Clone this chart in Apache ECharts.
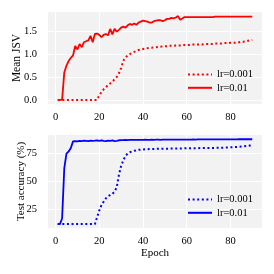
<!DOCTYPE html>
<html>
<head>
<meta charset="utf-8">
<script src="https://cdn.jsdelivr.net/npm/echarts@6/dist/echarts.min.js"></script>
<style>html,body{margin:0;padding:0;background:#fff;}#c{width:274px;height:274px;}</style>
</head>
<body>
<div id="c"></div>
<script>
const epochs = [1,2,3,4,5,6,7,8,9,10,11,12,13,14,15,16,17,18,19,20,21,22,23,24,25,26,27,28,29,30,
31,32,33,34,35,36,37,38,39,40,41,42,43,44,45,46,47,48,49,50,51,52,53,54,55,56,57,58,59,60,
61,62,63,64,65,66,67,68,69,70,71,72,73,74,75,76,77,78,79,80,81,82,83,84,85,86,87,88,89,90];

const jsvLr001 = [0,0,0,0,0,0,0,0,0,0,0,0,0,0,0,0,0,0,0,0.1,
0.17,0.23,0.28,0.32,0.36,0.4,0.45,0.5,0.58,0.7,
0.85,0.93,0.97,1.0,1.03,1.05,1.07,1.09,1.1,1.11,
1.12,1.13,1.14,1.14,1.15,1.15,1.16,1.16,1.17,1.17,
1.17,1.18,1.18,1.18,1.19,1.19,1.19,1.2,1.2,1.2,
1.2,1.2,1.21,1.21,1.21,1.21,1.21,1.22,1.22,1.22,
1.22,1.22,1.23,1.23,1.23,1.23,1.24,1.24,1.24,1.25,
1.25,1.25,1.26,1.26,1.27,1.27,1.28,1.29,1.3,1.31];

const jsvLr01 = [0,0,0,0.6,0.75,0.85,0.92,0.97,1.18,1.1,
1.22,1.15,1.26,1.28,1.3,1.4,1.26,1.44,1.45,1.42,
1.37,1.42,1.44,1.41,1.55,1.43,1.55,1.49,1.53,1.58,
1.6,1.58,1.63,1.66,1.64,1.67,1.64,1.69,1.71,1.73,
1.72,1.71,1.69,1.69,1.72,1.73,1.74,1.74,1.72,1.74,
1.77,1.77,1.79,1.78,1.8,1.83,1.75,1.78,1.81,1.81,
1.81,1.81,1.81,1.81,1.81,1.81,1.81,1.81,1.81,1.81,
1.81,1.81,1.82,1.82,1.82,1.82,1.82,1.82,1.82,1.82,
1.82,1.82,1.82,1.82,1.82,1.82,1.82,1.82,1.82,1.82];

const accLr001 = [12,12,12,12,12,12,12,12,12,12,12,12,12,12,12,12,12,12,18,24,
29,32,35,37,38,39,41,45,56,64,
69,73,75,76.3,77,77.6,78,78.4,78.6,78.8,
79,79,79.1,79.2,79.2,79.3,79.3,79.4,79.4,79.5,
79.5,79.5,79.6,79.6,79.6,79.7,79.7,79.7,79.8,79.8,
79.8,79.8,79.9,79.9,79.9,80,80,80,80,80.1,
80.1,80.1,80.2,80.2,80.3,80.3,80.4,80.5,80.6,80.7,
80.8,80.9,81,81.2,81.4,81.6,81.8,82,82.3,82.6];

const accLr01 = [12,12,17,62,75,77,80,86,86.2,86,
86.5,86.3,86.6,86.4,86.2,86.7,86.5,86.6,86.8,86.5,
86.9,86.4,86.2,86.7,86.5,86.9,86.3,86.5,87,87.2,
87.2,87.3,87.2,87.4,87.3,87.3,87.4,87.3,87.4,87.4,
87.5,87.4,87.4,87.5,87.4,87.5,87.5,87.4,87.5,87.5,
87.5,87.6,87.5,87.6,87.5,87.6,87.6,87.6,87.6,87.6,
87.6,87.6,87.7,87.6,87.7,87.7,87.7,87.7,87.7,87.7,
87.7,87.7,87.8,87.7,87.8,87.8,87.8,87.8,87.8,87.8,
87.8,87.8,87.8,87.9,87.9,87.9,87.9,87.9,87.9,87.9];

const xTicks = [0,20,40,60,80];
const jsvTicks = [0,0.5,1.0,1.5];
const accTicks = [25,50,75];
const labels = ['lr=0.001','lr=0.01'];

const FONT = 'Liberation Serif';
const pair = (xs, ys) => xs.map((x, i) => [x, ys[i]]);

const xAxisBase = (gi, withName) => ({
  type: 'value', gridIndex: gi, min: -3.45, max: 94.45,
  axisLine: {show: false}, axisTick: {show: false, customValues: xTicks},
  axisLabel: {customValues: xTicks, color: '#000', fontFamily: FONT, fontSize: 10.5, margin: 8},
  splitLine: {show: true, lineStyle: {color: '#fff', width: 1}},
  name: withName ? 'Epoch' : '', nameLocation: 'middle', nameGap: 20, nameMoveOverlap: false,
  nameTextStyle: {color: '#000', fontFamily: FONT, fontSize: 11}
});

const legendBase = (prefix, top) => ({
  data: [prefix + labels[0], prefix + labels[1]], orient: 'vertical', left: 182, top: top,
  itemWidth: 24, itemHeight: 14, itemGap: 2,
  itemStyle: {opacity: 0},
  formatter: n => n.split('|')[1],
  textStyle: {color: '#000', fontFamily: FONT, fontSize: 10.5}
});

const chart = echarts.init(document.getElementById('c'), null, {renderer: 'canvas'});
chart.setOption({
  animation: false,
  backgroundColor: '#fff',
  grid: [
    {left: 48, right: 12, top: 12, height: 92, show: true, backgroundColor: '#f2f2f2', borderWidth: 0},
    {left: 48, right: 12, top: 135, height: 93, show: true, backgroundColor: '#f2f2f2', borderWidth: 0}
  ],
  xAxis: [xAxisBase(0, false), xAxisBase(1, true)],
  yAxis: [
    {type: 'value', gridIndex: 0, min: -0.09, max: 1.92,
     axisLine: {show: false}, axisTick: {show: false, customValues: jsvTicks},
     axisLabel: {customValues: jsvTicks, color: '#000', fontFamily: FONT, fontSize: 10.5, margin: 11,
                 formatter: v => v.toFixed(1)},
     splitLine: {show: true, lineStyle: {color: '#fff', width: 1}},
     name: 'Mean JSV', nameLocation: 'middle', nameGap: 25, nameMoveOverlap: false,
     nameTextStyle: {color: '#000', fontFamily: FONT, fontSize: 11.5}},
    {type: 'value', gridIndex: 1, min: 8.5, max: 91.7,
     axisLine: {show: false}, axisTick: {show: false, customValues: accTicks},
     axisLabel: {customValues: accTicks, color: '#000', fontFamily: FONT, fontSize: 10.5, margin: 11},
     splitLine: {show: true, lineStyle: {color: '#fff', width: 1}},
     name: 'Test accuracy (%)', nameLocation: 'middle', nameGap: 21.5, nameMoveOverlap: false,
     nameTextStyle: {color: '#000', fontFamily: FONT, fontSize: 11}}
  ],
  legend: [legendBase('jsv|', 64), legendBase('acc|', 189)],
  series: [
    {name: 'jsv|' + labels[0], type: 'line', xAxisIndex: 0, yAxisIndex: 0, data: pair(epochs, jsvLr001),
     symbol: 'none', color: '#ff0000', lineStyle: {color: '#ff0000', width: 2, type: [2, 2.6], cap: 'butt'}},
    {name: 'jsv|' + labels[1], type: 'line', xAxisIndex: 0, yAxisIndex: 0, data: pair(epochs, jsvLr01),
     symbol: 'none', color: '#ff0000', lineStyle: {color: '#ff0000', width: 1.8}},
    {name: 'acc|' + labels[0], type: 'line', xAxisIndex: 1, yAxisIndex: 1, data: pair(epochs, accLr001),
     symbol: 'none', color: '#0000ff', lineStyle: {color: '#0000ff', width: 2, type: [2, 2.6], cap: 'butt'}},
    {name: 'acc|' + labels[1], type: 'line', xAxisIndex: 1, yAxisIndex: 1, data: pair(epochs, accLr01),
     symbol: 'none', color: '#0000ff', lineStyle: {color: '#0000ff', width: 1.8}}
  ]
});
</script>
</body>
</html>
